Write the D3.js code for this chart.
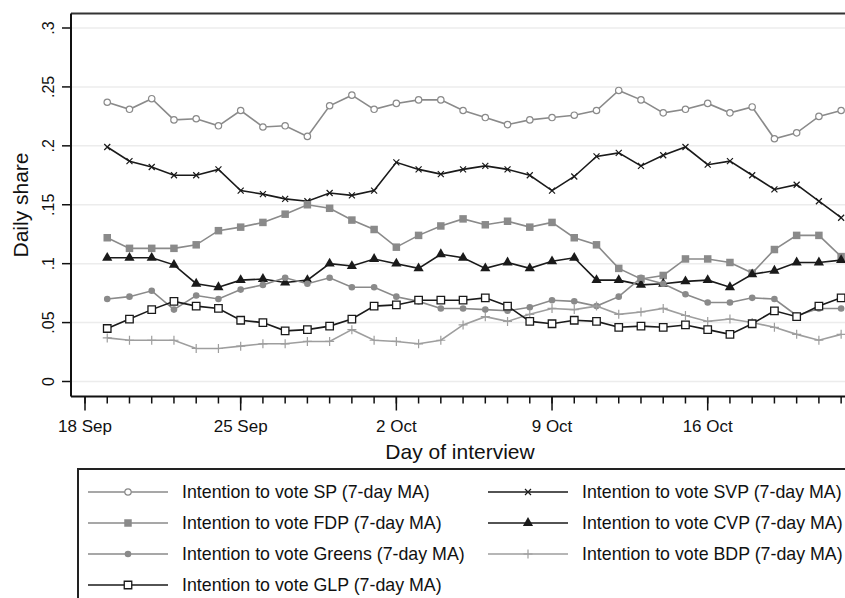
<!DOCTYPE html>
<html>
<head>
<meta charset="utf-8">
<script src="https://cdn.jsdelivr.net/npm/d3@7"></script>
<style>
  body { margin: 0; background: #fff; }
  svg { display: block; font-family: Arial, "Liberation Sans", sans-serif; }
</style>
</head>
<body>
<div id="chart"></div>
<script>
// daily 7-day moving averages, 19 Sep .. 22 Oct
var firstDay = "2011-09-19", lastDay = "2011-10-22";

var sp = [0.237,0.231,0.240,0.222,0.223,0.217,0.230,0.216,0.217,0.208,0.234,0.243,0.231,0.236,0.239,0.239,0.230,
  0.224,0.218,0.222,0.224,0.226,0.230,0.247,0.239,0.228,0.231,0.236,0.228,0.233,0.206,0.211,0.225,0.230];
var svp = [0.199,0.187,0.182,0.175,0.175,0.180,0.162,0.159,0.155,0.153,0.160,0.158,0.162,0.186,0.180,0.176,0.180,
  0.183,0.180,0.175,0.162,0.174,0.191,0.194,0.183,0.192,0.199,0.184,0.187,0.175,0.163,0.167,0.153,0.139];
var fdp = [0.122,0.113,0.113,0.113,0.116,0.128,0.131,0.135,0.142,0.150,0.147,0.137,0.129,0.114,0.124,0.132,0.138,
  0.133,0.136,0.131,0.135,0.122,0.116,0.096,0.087,0.090,0.104,0.104,0.101,0.092,0.112,0.124,0.124,0.106];
var cvp = [0.105,0.105,0.105,0.099,0.083,0.080,0.086,0.087,0.084,0.086,0.100,0.098,0.104,0.100,0.096,0.108,0.105,
  0.096,0.101,0.096,0.102,0.105,0.086,0.086,0.082,0.083,0.085,0.086,0.080,0.091,0.094,0.101,0.101,0.103];
var greens = [0.070,0.072,0.077,0.061,0.073,0.070,0.078,0.082,0.088,0.083,0.088,0.080,0.080,0.072,0.068,0.062,0.062,
  0.061,0.060,0.063,0.069,0.068,0.064,0.072,0.088,0.083,0.074,0.067,0.067,0.071,0.070,0.056,0.062,0.062];
var bdp = [0.037,0.035,0.035,0.035,0.028,0.028,0.030,0.032,0.032,0.034,0.034,0.044,0.035,0.034,0.032,0.035,0.048,
  0.055,0.051,0.057,0.062,0.061,0.064,0.057,0.059,0.062,0.056,0.051,0.053,0.050,0.046,0.040,0.035,0.040];
var glp = [0.045,0.053,0.061,0.068,0.064,0.062,0.052,0.050,0.043,0.044,0.047,0.053,0.064,0.065,0.069,0.069,0.069,
  0.071,0.064,0.051,0.049,0.052,0.051,0.046,0.047,0.046,0.048,0.044,0.040,0.049,0.060,0.055,0.064,0.071];

var yTicks = [0, 0.05, 0.1, 0.15, 0.2, 0.25, 0.3];
var yTickLabels = ["0", ".05", ".1", ".15", ".2", ".25", ".3"];
var xTickDays = ["2011-09-18", "2011-09-25", "2011-10-02", "2011-10-09", "2011-10-16"];
var xTickLabels = ["18 Sep", "25 Sep", "2 Oct", "9 Oct", "16 Oct"];

var seriesNames = ["SP", "SVP", "FDP", "CVP", "Greens", "BDP", "GLP"];

var width = 845, height = 598;
var parse = d3.utcParse("%Y-%m-%d");
var days = d3.utcDay.range(parse(firstDay), d3.utcDay.offset(parse(lastDay), 1));

var x = d3.scaleUtc()
  .domain([parse("2011-09-18"), parse("2011-10-16")])
  .range([85, 707.7]);
var y = d3.scaleLinear()
  .domain([0, 0.3])
  .range([381.5, 28]);

var plotLeft = 71, plotTop = 13.5, plotBottom = 396.5, plotRight = 900;

var svg = d3.select("#chart").append("svg")
  .attr("width", width)
  .attr("height", height);

// grid
svg.append("g").selectAll("line")
  .data(yTicks)
  .enter().append("line")
  .attr("x1", plotLeft).attr("x2", plotRight)
  .attr("y1", function (d) { return y(d); })
  .attr("y2", function (d) { return y(d); })
  .attr("stroke", "#ececec")
  .attr("stroke-width", 1.5);

// frame top
svg.append("line")
  .attr("x1", plotLeft).attr("x2", plotRight)
  .attr("y1", plotTop).attr("y2", plotTop)
  .attr("stroke", "#333").attr("stroke-width", 2);

// y axis
var yAxis = svg.append("g");
yAxis.append("line")
  .attr("x1", plotLeft).attr("x2", plotLeft)
  .attr("y1", plotTop).attr("y2", plotBottom)
  .attr("stroke", "#111").attr("stroke-width", 2);
yAxis.selectAll(".yt")
  .data(yTicks)
  .enter().append("line")
  .attr("x1", plotLeft - 9).attr("x2", plotLeft)
  .attr("y1", function (d) { return y(d); })
  .attr("y2", function (d) { return y(d); })
  .attr("stroke", "#111").attr("stroke-width", 1.5);
yAxis.selectAll("text")
  .data(yTicks)
  .enter().append("text")
  .attr("transform", function (d) { return "translate(54," + y(d) + ") rotate(-90)"; })
  .attr("text-anchor", "middle")
  .attr("font-size", 16)
  .attr("fill", "#111")
  .text(function (d, i) { return yTickLabels[i]; });

// x axis
var xAxis = svg.append("g");
xAxis.append("line")
  .attr("x1", plotLeft).attr("x2", plotRight)
  .attr("y1", plotBottom).attr("y2", plotBottom)
  .attr("stroke", "#111").attr("stroke-width", 2);
var minorDays = d3.utcDay.range(parse("2011-09-18"), parse("2011-10-24"));
xAxis.selectAll(".minor")
  .data(minorDays)
  .enter().append("line")
  .attr("x1", function (d) { return x(d); })
  .attr("x2", function (d) { return x(d); })
  .attr("y1", plotBottom).attr("y2", plotBottom + 7)
  .attr("stroke", "#111").attr("stroke-width", 1.5);
xAxis.selectAll(".major")
  .data(xTickDays)
  .enter().append("line")
  .attr("x1", function (d) { return x(parse(d)); })
  .attr("x2", function (d) { return x(parse(d)); })
  .attr("y1", plotBottom).attr("y2", plotBottom + 14)
  .attr("stroke", "#111").attr("stroke-width", 1.5);
xAxis.selectAll("text")
  .data(xTickDays)
  .enter().append("text")
  .attr("x", function (d) { return x(parse(d)); })
  .attr("y", 432)
  .attr("text-anchor", "middle")
  .attr("font-size", 17)
  .attr("fill", "#111")
  .text(function (d, i) { return xTickLabels[i]; });

// axis titles
svg.append("text")
  .attr("transform", "translate(28,205) rotate(-90)")
  .attr("text-anchor", "middle")
  .attr("font-size", 21)
  .attr("fill", "#111")
  .text("Daily share");
svg.append("text")
  .attr("x", 460).attr("y", 459)
  .attr("text-anchor", "middle")
  .attr("font-size", 21)
  .attr("fill", "#111")
  .text("Day of interview");

// marker shapes
function circle(r) { return d3.symbol().type(d3.symbolCircle).size(Math.PI * r * r)(); }
function square(s) { return d3.symbol().type(d3.symbolSquare).size(s * s)(); }
function triangle(s) { return d3.symbol().type(d3.symbolTriangle).size(s)(); }
function plus(h) { return "M" + (-h) + ",0H" + h + "M0," + (-h) + "V" + h; }
function times(h) { return "M" + (-h) + "," + (-h) + "L" + h + "," + h + "M" + (-h) + "," + h + "L" + h + "," + (-h); }

var grey = "#8a8a8a", lightGrey = "#9e9e9e", black = "#1a1a1a";

var series = [
  { name: "SP", values: sp, color: grey, path: circle(3.2), fill: "#fff", sw: 1.2 },
  { name: "SVP", values: svp, color: black, path: times(3), fill: "none", sw: 1.2 },
  { name: "FDP", values: fdp, color: grey, path: square(7.5), fill: grey, sw: 0 },
  { name: "CVP", values: cvp, color: black, path: triangle(45), fill: black, sw: 0 },
  { name: "Greens", values: greens, color: grey, path: circle(3.3), fill: grey, sw: 0 },
  { name: "BDP", values: bdp, color: lightGrey, path: plus(4.5), fill: "none", sw: 1.2 },
  { name: "GLP", values: glp, color: black, path: square(7.5), fill: "#fff", sw: 1.3 }
];

var line = d3.line()
  .x(function (d, i) { return x(days[i]); })
  .y(function (d) { return y(d); });

var g = svg.selectAll(".series")
  .data(series)
  .enter().append("g")
  .attr("class", "series");

g.append("path")
  .attr("d", function (s) { return line(s.values); })
  .attr("fill", "none")
  .attr("stroke", function (s) { return s.color; })
  .attr("stroke-width", 1.6);

g.each(function (s) {
  d3.select(this).selectAll(".mk")
    .data(s.values)
    .enter().append("path")
    .attr("transform", function (d, i) { return "translate(" + x(days[i]) + "," + y(d) + ")"; })
    .attr("d", s.path)
    .attr("fill", s.fill)
    .attr("stroke", s.sw ? s.color : "none")
    .attr("stroke-width", s.sw);
});

// legend
var legend = svg.append("g");
legend.append("rect")
  .attr("x", 78).attr("y", 469)
  .attr("width", 900).attr("height", 200)
  .attr("fill", "none")
  .attr("stroke", "#222").attr("stroke-width", 2);

var legendOrder = [0, 2, 4, 6, 1, 3, 5];
var item = legend.selectAll(".item")
  .data(legendOrder)
  .enter().append("g")
  .attr("transform", function (k, i) {
    var col = i < 4 ? 0 : 1, row = i < 4 ? i : i - 4;
    return "translate(" + (88 + col * 400) + "," + (492 + row * 31) + ")";
  });
item.append("line")
  .attr("x1", 0).attr("x2", 80)
  .attr("stroke", function (k) { return series[k].color; })
  .attr("stroke-width", 1.6);
item.append("path")
  .attr("transform", "translate(40,0)")
  .attr("d", function (k) { return series[k].path; })
  .attr("fill", function (k) { return series[k].fill; })
  .attr("stroke", function (k) { return series[k].sw ? series[k].color : "none"; })
  .attr("stroke-width", function (k) { return series[k].sw; });
item.append("text")
  .attr("x", 94).attr("y", 6)
  .attr("font-size", 17.8)
  .attr("fill", "#111")
  .text(function (k) { return "Intention to vote " + seriesNames[k] + " (7-day MA)"; });
</script>
</body>
</html>
